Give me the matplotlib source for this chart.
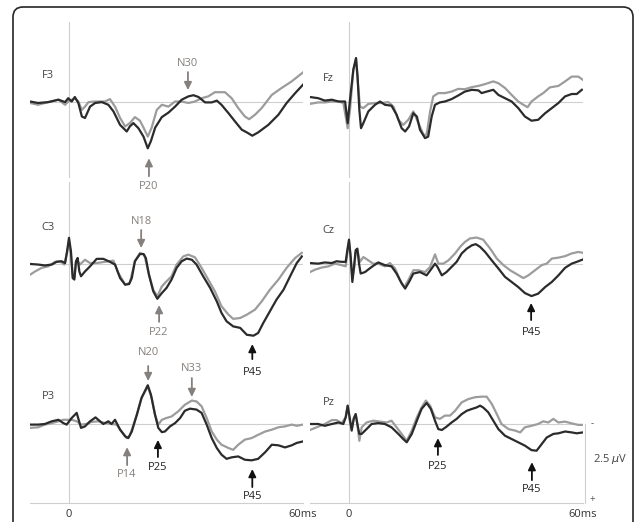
import matplotlib.pyplot as plt
from matplotlib.patches import FancyBboxPatch

plt.rcParams['font.family'] = ['Open Sans', 'DejaVu Sans']

GRAY = '#9c9c9c'
DARK = '#2b2b2b'
ARROW_GRAY = '#85807d'
LINE = '#cfcfcf'
FS = 8

# ---- waveforms: time in ms, amplitude in uV (positive plotted downward) ----
f3_t_dark = [-10.0, -7.9, -5.3, -2.7, -1.0, -0.2, 0.7, 1.5, 2.4, 3.3, 4.1, 5.4, 6.7, 8.4, 10.1, 11.4,
             13.1, 14.8, 15.6, 16.5, 17.8, 19.1, 20.2, 21.0, 22.1, 23.8, 25.5, 27.2, 28.9, 30.6, 31.9,
             33.2, 34.9, 36.6, 37.9, 39.1, 40.9, 42.6, 44.3, 45.6, 47.0, 48.5, 51.1, 53.7, 55.8, 58.0, 60.0]
f3_v_dark = [-0.02, 0.03, 0.00, -0.08, 0.00, -0.13, -0.02, -0.17, 0.03, 0.48, 0.53, 0.15, 0.03, 0.00, 0.09,
             0.31, 0.76, 0.98, 0.81, 0.70, 0.87, 1.15, 1.54, 1.30, 0.85, 0.50, 0.35, 0.15, -0.08, -0.19,
             -0.23, -0.17, 0.01, 0.01, -0.05, 0.09, 0.37, 0.65, 0.92, 1.01, 1.12, 1.01, 0.76, 0.42, 0.03,
             -0.30, -0.58]
f3_t_gray = [-10.0, -7.9, -5.3, -2.7, -1.0, -0.2, 1.5, 2.4, 3.3, 4.1, 5.0, 6.7, 9.2, 10.5, 11.8, 13.1,
             14.4, 15.6, 16.9, 18.2, 19.1, 20.2, 21.2, 22.5, 23.8, 25.5, 27.2, 28.9, 30.6, 32.3, 34.0,
             35.7, 37.4, 40.0, 41.7, 43.4, 45.1, 46.2, 47.7, 49.4, 52.0, 54.5, 57.1, 60.0]
f3_v_gray = [0.03, 0.09, 0.00, -0.08, 0.09, -0.02, -0.13, -0.02, 0.26, 0.15, 0.00, -0.02, -0.02, -0.10,
             0.15, 0.53, 0.81, 0.70, 0.50, 0.62, 0.85, 1.15, 0.85, 0.26, 0.09, 0.15, -0.02, -0.02, 0.03,
             -0.02, -0.13, -0.19, -0.33, -0.33, -0.13, 0.20, 0.48, 0.57, 0.42, 0.20, -0.24, -0.47, -0.69,
             -0.99]

fz_t_dark = [-10.0, -7.9, -6.2, -4.4, -2.7, -1.0, -0.34, 0.26, 1.11, 1.8, 2.2, 2.65, 3.08, 3.68, 4.96,
             6.67, 7.95, 9.23, 10.9, 12.2, 13.5, 14.4, 15.4, 16.5, 17.4, 18.2, 19.5, 20.3, 21.2, 22.05,
             23.3, 24.6, 26.3, 28.0, 29.7, 31.5, 33.2, 34.0, 35.3, 37.0, 38.3, 40.0, 41.7, 43.4, 45.1,
             46.8, 48.5, 50.3, 52.0, 53.7, 55.4, 57.1, 58.4, 59.7]
fz_v_dark = [-0.17, -0.13, -0.05, -0.08, -0.02, -0.02, 0.70, -0.08, -1.08, -1.47, -0.85, 0.26, 0.87, 0.70,
             0.31, 0.09, -0.02, 0.09, 0.12, 0.42, 0.87, 0.98, 0.81, 0.37, 0.48, 0.92, 1.20, 1.15, 0.48,
             0.09, 0.01, -0.02, -0.10, -0.22, -0.35, -0.41, -0.39, -0.30, -0.35, -0.41, -0.24, -0.13,
             -0.02, 0.20, 0.48, 0.62, 0.59, 0.37, 0.20, 0.03, -0.19, -0.27, -0.27, -0.41]
fz_t_gray = [-10.0, -7.9, -6.2, -4.4, -2.7, -1.45, -0.34, 0.26, 1.11, 1.8, 2.2, 2.82, 3.68, 4.96, 6.67,
             8.38, 10.1, 11.4, 12.65, 13.9, 15.2, 16.5, 17.8, 19.1, 19.9, 20.8, 21.6, 22.9, 24.6, 26.3,
             28.0, 29.7, 31.5, 33.2, 34.9, 37.0, 38.3, 40.0, 41.7, 43.4, 44.7, 45.8, 46.8, 48.5, 49.8,
             51.5, 53.7, 55.4, 57.1, 58.8, 60.0]
fz_v_gray = [0.06, 0.01, 0.01, -0.02, -0.02, 0.03, 0.87, 0.26, -1.08, -1.43, -0.74, 0.15, 0.20, 0.06, 0.03,
             0.03, 0.00, 0.15, 0.59, 0.76, 0.59, 0.31, 0.70, 1.09, 1.09, 0.31, -0.19, -0.30, -0.30, -0.35,
             -0.44, -0.43, -0.50, -0.54, -0.60, -0.69, -0.63, -0.47, -0.24, -0.02, 0.09, 0.17, -0.02,
             -0.19, -0.30, -0.49, -0.54, -0.69, -0.85, -0.85, -0.74]

c3_t_dark = [-10.0, -7.9, -6.2, -4.4, -3.2, -1.9, -1.0, -0.5, 0.0, 0.5, 0.94, 1.37, 1.8, 2.22, 2.65, 3.08,
             4.1, 5.4, 7.1, 8.8, 10.5, 11.8, 13.1, 14.4, 15.4, 16.1, 16.9, 18.2, 19.1, 19.7, 20.5, 21.6,
             22.65, 23.8, 25.0, 26.3, 27.6, 28.9, 30.2, 31.5, 32.7, 34.4, 36.2, 37.9, 39.1, 40.4, 42.1,
             43.9, 45.6, 47.3, 48.5, 49.8, 51.5, 53.2, 55.0, 56.7, 58.4, 59.7]
c3_v_dark = [0.00, 0.02, 0.05, 0.02, -0.07, -0.09, -0.03, -0.42, -0.87, -0.42, 0.47, 0.52, -0.09, -0.20,
             0.25, 0.41, 0.25, 0.08, -0.17, -0.17, -0.07, 0.02, 0.47, 0.69, 0.67, 0.47, -0.09, -0.33, -0.33,
             -0.20, 0.36, 0.91, 1.16, 0.97, 0.80, 0.52, 0.13, -0.09, -0.18, -0.14, 0.02, 0.41, 0.80, 1.25,
             1.63, 1.91, 2.08, 2.13, 2.36, 2.39, 2.30, 1.97, 1.58, 1.19, 0.86, 0.41, -0.03, -0.25]
c3_t_gray = [-10.0, -8.7, -7.0, -5.3, -3.6, -2.3, -1.2, -0.5, 0.0, 0.5, 0.94, 1.37, 1.8, 2.22, 2.8, 4.1,
             5.4, 7.1, 9.2, 11.4, 12.65, 14.4, 15.6, 16.9, 18.2, 19.3, 20.3, 21.6, 22.65, 23.8, 25.0, 26.3,
             27.6, 29.3, 30.6, 32.3, 34.0, 35.7, 37.4, 39.1, 40.9, 42.1, 43.9, 45.6, 47.7, 49.4, 51.5,
             53.7, 55.8, 58.0, 59.7]
c3_v_gray = [0.36, 0.25, 0.13, 0.08, -0.07, -0.09, 0.02, -0.37, -0.75, -0.31, 0.36, 0.47, -0.09, -0.09,
             0.02, -0.14, -0.03, -0.03, -0.07, -0.11, 0.30, 0.69, 0.63, -0.09, -0.37, -0.31, 0.25, 0.86,
             1.08, 0.75, 0.58, 0.41, 0.02, -0.25, -0.31, -0.22, 0.13, 0.52, 0.91, 1.41, 1.69, 1.83, 1.80,
             1.69, 1.52, 1.25, 0.86, 0.52, 0.13, -0.20, -0.37]

cz_t_dark = [-10.0, -7.9, -6.2, -4.4, -3.2, -1.9, -0.85, -0.43, 0.0, 0.43, 0.86, 1.28, 1.71, 2.14, 2.57,
             2.99, 4.1, 5.8, 7.5, 9.2, 10.9, 12.2, 13.5, 14.4, 15.4, 16.5, 18.2, 19.9, 21.2, 22.05, 22.7,
             23.8, 25.0, 26.3, 27.6, 28.9, 30.2, 31.5, 32.5, 33.6, 34.9, 36.6, 38.3, 40.0, 41.7, 43.4,
             45.1, 46.8, 48.5, 50.3, 52.0, 53.7, 55.4, 57.1, 58.4, 60.0]
cz_v_dark = [-0.03, -0.01, -0.05, -0.03, -0.09, -0.07, -0.07, -0.46, -0.81, -0.23, 0.60, 0.10, -0.46,
             -0.51, -0.01, 0.32, 0.27, 0.10, -0.05, 0.04, 0.08, 0.32, 0.65, 0.82, 0.60, 0.32, 0.27, 0.38,
             0.15, -0.01, 0.10, 0.38, 0.27, 0.10, -0.07, -0.35, -0.51, -0.62, -0.66, -0.57, -0.40, -0.12,
             0.15, 0.43, 0.60, 0.77, 0.97, 1.07, 0.99, 0.77, 0.60, 0.38, 0.13, -0.01, -0.07, -0.15]
cz_t_gray = [-10.0, -8.7, -7.0, -5.3, -3.6, -1.9, -0.85, -0.43, 0.0, 0.43, 0.86, 1.37, 1.71, 2.14, 2.82,
             3.68, 4.96, 6.2, 7.5, 9.2, 10.5, 11.8, 13.1, 14.2, 15.2, 16.5, 17.8, 19.5, 20.8, 22.05, 22.9,
             24.2, 25.5, 27.2, 28.5, 29.7, 31.0, 32.7, 34.4, 36.2, 37.9, 39.6, 41.3, 43.0, 44.7, 46.0,
             47.7, 49.4, 50.7, 52.0, 53.7, 55.4, 57.1, 58.8, 60.0]
cz_v_gray = [0.27, 0.19, 0.12, 0.08, -0.01, 0.04, 0.08, -0.35, -0.73, -0.23, 0.49, 0.10, -0.40, -0.46,
             -0.07, -0.23, -0.12, -0.01, -0.01, 0.08, -0.03, 0.15, 0.54, 0.77, 0.54, 0.21, 0.21, 0.27,
             0.10, -0.32, -0.01, -0.01, -0.12, -0.35, -0.57, -0.73, -0.85, -0.88, -0.81, -0.51, -0.18,
             0.04, 0.21, 0.34, 0.47, 0.38, 0.21, 0.04, -0.01, -0.18, -0.21, -0.26, -0.35, -0.40, -0.37]

p3_t_dark = [-10.0, -7.9, -6.2, -4.4, -2.7, -1.45, -0.6, 0.69, 1.97, 3.08, 4.1, 5.4, 6.8, 7.95, 8.8, 10.1,
             10.9, 11.8, 13.1, 14.4, 15.2, 16.1, 17.4, 18.6, 20.2, 21.0, 22.05, 22.9, 23.8, 24.6, 25.9,
             27.2, 28.5, 29.7, 31.0, 32.7, 34.0, 35.3, 36.6, 37.9, 39.1, 40.4, 41.7, 43.4, 45.1, 46.8,
             48.5, 50.3, 52.0, 53.7, 55.4, 57.1, 58.4, 60.0]
p3_v_dark = [0.02, 0.02, 0.00, -0.09, -0.14, -0.03, 0.02, -0.20, -0.37, 0.13, 0.08, -0.09, -0.22, -0.09,
             0.00, -0.09, 0.00, -0.14, 0.19, 0.41, 0.47, 0.25, -0.31, -0.87, -1.29, -0.98, -0.31, 0.13,
             0.27, 0.25, 0.08, -0.03, -0.20, -0.44, -0.51, -0.48, -0.37, 0.02, 0.47, 0.80, 1.02, 1.16,
             1.11, 1.08, 1.19, 1.21, 1.16, 0.94, 0.69, 0.71, 0.78, 0.71, 0.63, 0.58]
p3_t_gray = [-10.0, -7.9, -6.2, -4.4, -2.7, -1.45, -0.17, 0.69, 1.97, 3.08, 4.5, 5.8, 7.5, 9.2, 10.9, 12.2,
             13.5, 14.8, 15.6, 17.4, 18.6, 20.2, 21.2, 22.05, 22.9, 23.8, 25.0, 26.3, 28.0, 29.7, 31.5,
             32.7, 34.0, 35.3, 36.6, 37.9, 39.1, 40.9, 42.1, 43.4, 45.1, 46.8, 48.5, 50.3, 52.0, 53.7,
             55.4, 57.1, 58.4, 60.0]
p3_v_gray = [0.13, 0.11, 0.02, -0.03, -0.09, -0.14, -0.14, -0.14, -0.09, 0.02, 0.00, -0.07, -0.09, -0.03,
             0.00, 0.02, 0.25, 0.47, 0.38, -0.31, -0.87, -1.25, -0.87, -0.31, 0.02, -0.14, -0.20, -0.25,
             -0.42, -0.64, -0.78, -0.75, -0.59, -0.20, 0.25, 0.52, 0.69, 0.80, 0.86, 0.69, 0.52, 0.47,
             0.36, 0.25, 0.19, 0.11, 0.08, 0.02, 0.06, 0.02]

pz_t_dark = [-10.0, -7.9, -6.2, -4.4, -2.7, -1.45, -0.85, -0.34, 0.17, 0.69, 1.2, 1.71, 2.14, 2.65, 3.25,
             4.5, 5.8, 7.5, 9.2, 10.9, 12.65, 13.9, 14.8, 16.1, 17.4, 18.6, 19.9, 21.0, 22.05, 22.9, 23.8,
             25.0, 26.3, 27.6, 28.9, 30.2, 31.5, 32.7, 33.6, 34.4, 35.7, 37.0, 38.3, 40.0, 41.7, 43.4,
             45.1, 46.8, 48.1, 49.4, 50.7, 52.4, 53.7, 55.4, 57.1, 58.4, 60.0]
pz_v_dark = [0.00, 0.00, 0.06, 0.00, -0.05, 0.00, -0.22, -0.61, -0.22, 0.22, -0.17, -0.33, 0.00, 0.33,
             0.33, 0.17, 0.00, -0.03, 0.00, 0.11, 0.33, 0.50, 0.61, 0.33, -0.11, -0.50, -0.70, -0.50,
             -0.11, 0.17, 0.20, 0.09, -0.05, -0.17, -0.33, -0.44, -0.50, -0.55, -0.61, -0.55, -0.39,
             -0.11, 0.17, 0.39, 0.50, 0.61, 0.72, 0.87, 0.89, 0.67, 0.45, 0.33, 0.31, 0.25, 0.28, 0.31, 0.28]
pz_t_gray = [-10.0, -7.9, -6.2, -4.4, -3.2, -1.9, -0.85, -0.34, 0.17, 0.69, 1.2, 1.71, 2.14, 2.65, 3.25,
             4.5, 6.2, 7.95, 9.66, 10.9, 12.2, 13.5, 14.8, 16.1, 17.4, 18.6, 19.7, 20.8, 22.05, 23.3, 24.6,
             25.9, 27.2, 28.9, 30.6, 32.3, 34.0, 35.3, 36.6, 37.9, 39.1, 40.9, 42.6, 43.9, 45.1, 46.8,
             48.5, 49.8, 51.1, 52.4, 53.7, 55.4, 57.1, 58.8, 60.0]
pz_v_gray = [0.20, 0.09, 0.00, -0.13, -0.13, -0.03, -0.22, -0.61, -0.11, 0.17, -0.17, -0.33, 0.00, 0.56,
             0.11, -0.05, -0.11, -0.08, -0.05, -0.11, 0.11, 0.33, 0.56, 0.22, -0.22, -0.55, -0.78, -0.61,
             -0.22, -0.17, -0.28, -0.28, -0.44, -0.72, -0.83, -0.89, -0.91, -0.91, -0.67, -0.33, 0.00,
             0.17, 0.22, 0.28, 0.11, 0.06, 0.00, -0.09, -0.05, -0.17, -0.05, -0.08, -0.02, 0.03, 0.03]

# peak markers: (label, latency ms, arrow head uV, arrow tail uV, label uV, black?)
f3_peaks = [('N30', 30.5, -0.4, -1.0, -1.3, False), ('P20', 20.5, 1.87, 2.47, 2.8, False)]
fz_peaks = []
c3_peaks = [('N18', 18.5, -0.53, -1.13, -1.43, False), ('P22', 23.1, 1.37, 1.93, 2.3, False),
            ('P45', 47.0, 2.67, 3.17, 3.6, True)]
cz_peaks = [('P45', 46.7, 1.3, 1.87, 2.27, True)]
p3_peaks = [('N20', 20.3, -1.43, -1.93, -2.37, False), ('N33', 31.5, -0.9, -1.53, -1.85, False),
            ('P14', 14.9, 0.77, 1.37, 1.68, False), ('P25', 22.8, 0.53, 1.1, 1.45, True),
            ('P45', 47.0, 1.5, 2.1, 2.43, True)]
pz_peaks = [('P25', 22.8, 0.47, 1.03, 1.4, True), ('P45', 46.9, 1.27, 1.87, 2.17, True)]

panels = [
    ('F3', 0, 0, f3_t_gray, f3_v_gray, f3_t_dark, f3_v_dark, f3_peaks, -0.9),
    ('Fz', 0, 1, fz_t_gray, fz_v_gray, fz_t_dark, fz_v_dark, fz_peaks, -0.8),
    ('C3', 1, 0, c3_t_gray, c3_v_gray, c3_t_dark, c3_v_dark, c3_peaks, -1.23),
    ('Cz', 1, 1, cz_t_gray, cz_v_gray, cz_t_dark, cz_v_dark, cz_peaks, -1.13),
    ('P3', 2, 0, p3_t_gray, p3_v_gray, p3_t_dark, p3_v_dark, p3_peaks, -0.9),
    ('Pz', 2, 1, pz_t_gray, pz_v_gray, pz_t_dark, pz_v_dark, pz_peaks, -0.73),
]

W, H = 635, 522
fig = plt.figure(figsize=(W / 100, H / 100), dpi=100)

# rounded outer frame (runs off the bottom edge)
frame = FancyBboxPatch((0.13, -0.3), 6.20, 5.45, boxstyle='round,pad=0,rounding_size=0.1',
                       transform=fig.dpi_scale_trans, fill=False, ec='#262626', lw=1.2)
fig.patches.append(frame)

col_x = [30, 310]
# pixel top, pixel bottom, uV at top, uV at bottom
rows = [(22, 178, -2.67, 2.53), (182, 354, -2.73, 3.0), (354, 503, -2.33, 2.63)]

for name, r, c, tg, vg, td, vd, peaks, lab_v in panels:
    top, bot, vtop, vbot = rows[r]
    ax = fig.add_axes([col_x[c] / W, 1 - bot / H, 273 / W, (bot - top) / H])
    ax.patch.set_visible(False)
    ax.set_xlim(-10, 60)
    ax.set_ylim(vbot, vtop)
    for s in ax.spines.values():
        s.set_visible(False)
    ax.axvline(0, color=LINE, lw=0.8, zorder=1)
    ax.axhline(0, color=LINE, lw=0.8, zorder=1)

    ax.plot(tg, vg, color=GRAY, lw=1.6, zorder=2, solid_joinstyle='round')
    ax.plot(td, vd, color=DARK, lw=1.6, zorder=3, solid_joinstyle='round')

    ax.text(-5.3, lab_v, name, fontsize=FS, color='#444444', ha='center', va='center')

    for lab, t, vh, vt, vl, black in peaks:
        col = '#111111' if black else ARROW_GRAY
        ax.annotate('', xy=(t, vh), xytext=(t, vt), annotation_clip=False,
                    arrowprops=dict(arrowstyle='-|>,head_length=0.45,head_width=0.22',
                                    color=col, lw=1.3, shrinkA=0, shrinkB=0))
        ax.text(t, vl, lab, fontsize=FS, color='#222222' if black else ARROW_GRAY,
                ha='center', va='center', clip_on=False)

    if r == 2:
        ax.spines['bottom'].set_visible(True)
        ax.spines['bottom'].set_color(LINE)
        ax.spines['bottom'].set_linewidth(0.8)
        ax.set_xticks([0, 60])
        ax.set_xticklabels(['0', '60ms'], fontsize=FS, color='#333333')
        ax.tick_params(axis='x', length=0, pad=4)
        ax.set_yticks([])
        if c == 1:
            ax.plot([60.5, 60.5], [0, vbot], color=LINE, lw=0.8, clip_on=False)
            ax.text(62.4, 0, '-', fontsize=7, color='#555555', ha='center', va='center', clip_on=False)
            ax.text(62.4, 2.5, '+', fontsize=7, color='#555555', ha='center', va='center', clip_on=False)
            ax.text(62.6, 1.17, '2.5 $\\mu$V', fontsize=FS, color='#444444', ha='left', va='center',
                    clip_on=False)
    else:
        ax.set_xticks([])
        ax.set_yticks([])

fig.savefig('out.png', dpi=100)
